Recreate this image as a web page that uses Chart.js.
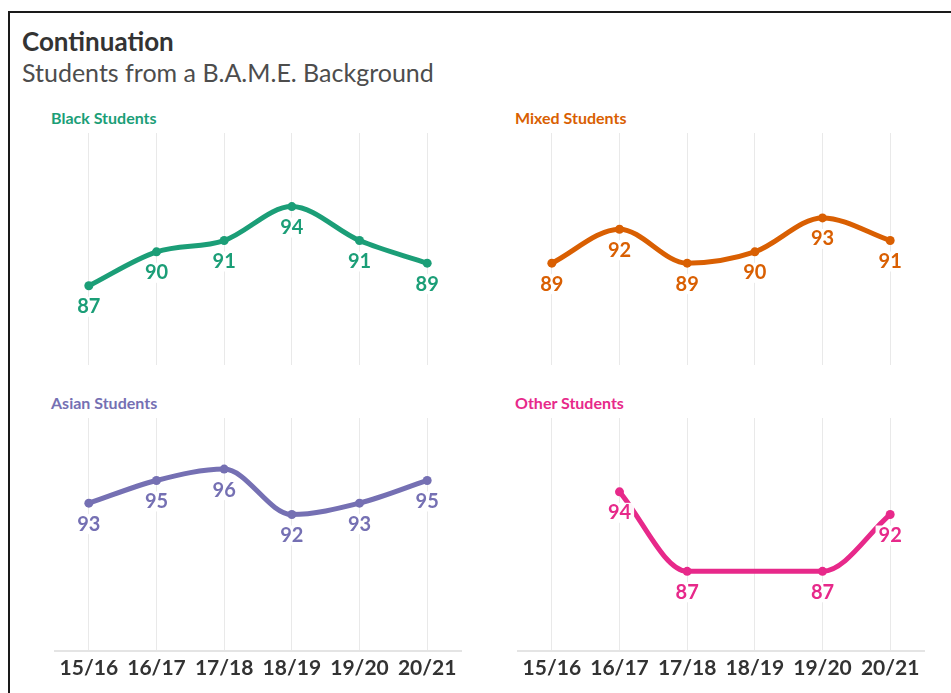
<!DOCTYPE html>
<html>
<head>
<meta charset="utf-8">
<title>Continuation</title>
<script src="https://cdn.jsdelivr.net/npm/chart.js@4/dist/chart.umd.min.js"></script>
<style>
  body { margin: 0; background: #fff; font-family: Lato, "Noto Sans", sans-serif; }
  .frame { position: absolute; left: 8px; top: 11px; width: 1000px; height: 800px;
           border-left: 2px solid #1a1a1a; border-top: 2px solid #1a1a1a; }
  .title { position: absolute; left: 22px; top: 26px; font-size: 26px; font-weight: 700; color: #333; line-height: 30px; }
  .subtitle { position: absolute; left: 22px; top: 57px; font-size: 25px; color: #4d4d4d; line-height: 30px; }
  .panel-title { position: absolute; font-size: 16px; font-weight: 700; line-height: 18px; }
  canvas { position: absolute; }
</style>
</head>
<body>
<div class="frame"></div>
<div class="title">Continuation</div>
<div class="subtitle">Students from a B.A.M.E. Background</div>

<div class="panel-title" id="t-black" style="left:51px;top:109px"></div>
<div class="panel-title" id="t-mixed" style="left:515px;top:109px"></div>
<div class="panel-title" id="t-asian" style="left:51px;top:394px"></div>
<div class="panel-title" id="t-other" style="left:515px;top:394px"></div>

<canvas id="c-black" width="430" height="257" style="left:40px;top:123px"></canvas>
<canvas id="c-mixed" width="430" height="257" style="left:505px;top:123px"></canvas>
<canvas id="c-asian" width="430" height="285" style="left:40px;top:408px"></canvas>
<canvas id="c-other" width="430" height="285" style="left:505px;top:408px"></canvas>

<script>
// Academic years on the x axis
const seasons = ['15/16', '16/17', '17/18', '18/19', '19/20', '20/21'];

// Continuation rate (%) per group
const blackStudents = [87, 90, 91, 94, 91, 89];
const mixedStudents = [89, 92, 89, 90, 93, 91];
const asianStudents = [93, 95, 96, 92, 93, 95];
const otherStudents = [null, 94, 87, null, 87, 92];

const panelTitles = ['Black Students', 'Mixed Students', 'Asian Students', 'Other Students'];
const panelColours = ['#1b9e77', '#d95f02', '#7570b3', '#e7298a'];

// Value under each point, on a white box so it sits over the line
const valueLabels = {
  id: 'valueLabels',
  afterDatasetsDraw(chart) {
    const ctx = chart.ctx;
    const ds = chart.data.datasets[0];
    const meta = chart.getDatasetMeta(0);
    ctx.save();
    ctx.font = 'bold 20px Lato';
    ctx.textAlign = 'center';
    ctx.textBaseline = 'middle';
    meta.data.forEach((pt, i) => {
      const v = ds.data[i];
      if (v == null) return;
      const txt = String(v);
      const w = ctx.measureText(txt).width;
      const y = pt.y + 21;
      ctx.fillStyle = 'rgba(255,255,255,0.96)';
      ctx.fillRect(pt.x - w / 2 - 3, y - 10, w + 6, 20);
      ctx.fillStyle = ds.borderColor;
      ctx.fillText(txt, pt.x, y);
    });
    ctx.restore();
  }
};

function panel(id, values, colour, bottomRow, pad) {
  return new Chart(document.getElementById(id), {
    type: 'line',
    data: {
      labels: seasons,
      datasets: [{
        data: values,
        borderColor: colour,
        backgroundColor: colour,
        borderWidth: 5,
        pointRadius: 4.5,
        pointBorderWidth: 0,
        cubicInterpolationMode: 'monotone',
        spanGaps: true,
      }]
    },
    options: {
      responsive: false,
      animation: false,
      events: [],
      layout: { padding: pad },
      plugins: { legend: { display: false }, tooltip: { enabled: false } },
      scales: {
        x: {
          offset: true,
          grid: { color: '#e9e9e9', lineWidth: 1, drawTicks: false, offset: false },
          border: { display: bottomRow, color: '#e4e4e4', width: 2 },
          ticks: {
            display: bottomRow,
            padding: 5,
            color: '#333',
            font: { family: 'Lato', weight: 'bold', size: 21 },
          },
        },
        y: { display: false, min: 80, max: 100.5 },
      },
    },
    plugins: [valueLabels],
  });
}

['t-black', 't-mixed', 't-asian', 't-other'].forEach((id, i) => {
  const el = document.getElementById(id);
  el.textContent = panelTitles[i];
  el.style.color = panelColours[i];
});

panel('c-black', blackStudents, panelColours[0], false, { left: 15, right: 9, top: 10, bottom: 15 });
panel('c-mixed', mixedStudents, panelColours[1], false, { left: 13, right: 11, top: 10, bottom: 15 });
panel('c-asian', asianStudents, panelColours[2], true, { left: 15, right: 9, top: 10, bottom: 7 });
panel('c-other', otherStudents, panelColours[3], true, { left: 13, right: 11, top: 10, bottom: 7 });
</script>
</body>
</html>
